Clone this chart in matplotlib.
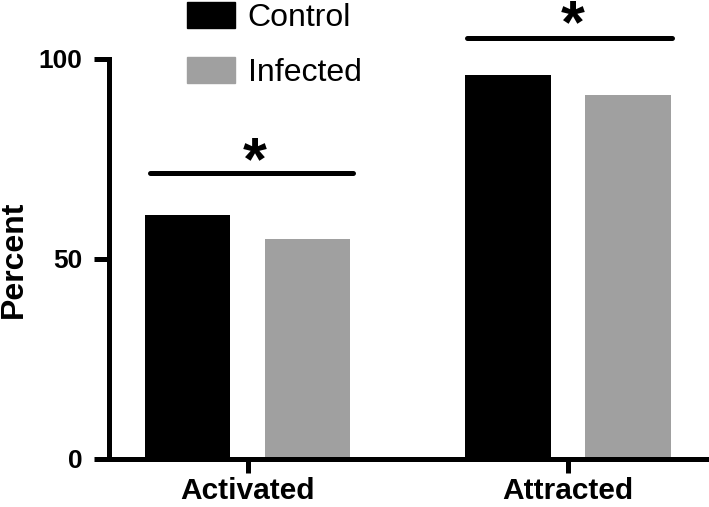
import numpy as np
import matplotlib
matplotlib.use("Agg")
import matplotlib.pyplot as plt
from matplotlib.patches import Patch

plt.rcParams['font.family'] = ['Liberation Sans', 'DejaVu Sans']

# data
categories = ['Activated', 'Attracted']
groups = ['Control', 'Infected']
control = [61, 96]
infected = [55, 91]
colors = ['#000000', '#a0a0a0']

# significance bars: (x start, x end, height), star position
sig_lines = [(-0.306, 0.328, 71.5), (0.684, 1.325, 105.25)]
sig_stars = [(0.022, 70.0), (1.016, 104.3)]

fig = plt.figure(figsize=(7.09, 5.07), dpi=100)
ax = fig.add_axes([109 / 709, 1 - 459 / 507, 600 / 709, 400 / 507])

x = np.arange(len(categories))
w = 0.266
off = 0.1875
ax.bar(x - off, control, w, color=colors[0], label=groups[0])
ax.bar(x + off, infected, w, color=colors[1], label=groups[1])

for x0, x1, y in sig_lines:
    ax.plot([x0, x1], [y, y], color='black', lw=3.6, solid_capstyle='round', clip_on=False)
for sx, sy in sig_stars:
    ax.text(sx, sy, '*', ha='center', va='baseline', fontsize=44, fontweight='bold', clip_on=False)

ax.set_xlim(-0.434, 1.4406)
ax.set_ylim(0, 100)
ax.set_yticks([0, 50, 100])
ax.set_xticks(x)
ax.set_xticklabels(categories)
ax.set_ylabel('Percent', fontsize=23, fontweight='bold', labelpad=7)

for s in ['top', 'right']:
    ax.spines[s].set_visible(False)
for s in ['left', 'bottom']:
    ax.spines[s].set_linewidth(3.6)
ax.tick_params(axis='y', length=11, width=3.6, pad=8, labelsize=19)
ax.tick_params(axis='x', length=10, width=3.6, pad=3, labelsize=21.5)
for lab in ax.get_xticklabels() + ax.get_yticklabels():
    lab.set_fontweight('bold')

handles = [Patch(color=c) for c in colors]
ax.legend(handles, groups, loc='upper left', bbox_to_anchor=(187 / 709, 1 - 2 / 507),
          bbox_transform=fig.transFigure, frameon=False, fontsize=23,
          handlelength=1.5, handleheight=0.88, labelspacing=0.75,
          handletextpad=0.4, borderpad=0, borderaxespad=0)

fig.savefig('out.png', dpi=100)
